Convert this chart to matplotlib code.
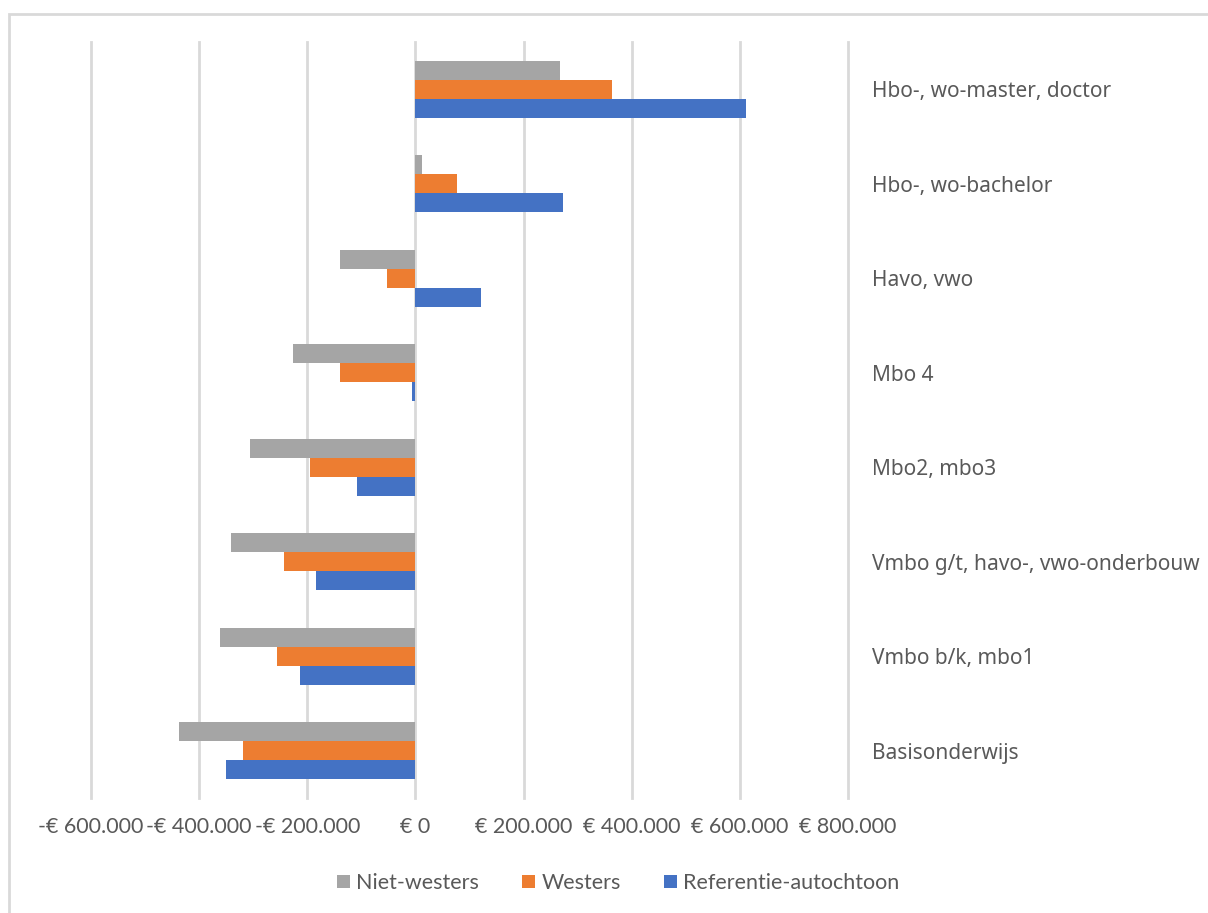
import matplotlib
matplotlib.use("Agg")
import matplotlib.pyplot as plt
from matplotlib.ticker import FuncFormatter
from matplotlib.patches import Rectangle
import numpy as np

# Opleidingsniveaus, van laag (onder) naar hoog (boven)
levels = ["Basisonderwijs", "Vmbo b/k, mbo1", "Vmbo g/t, havo-, vwo-onderbouw",
          "Mbo2, mbo3", "Mbo 4", "Havo, vwo", "Hbo-, wo-bachelor",
          "Hbo-, wo-master, doctor"]

niet_westers = [-437000, -361000, -341000, -306000, -227000, -140000, 12000, 267000]
westers = [-319000, -256000, -243000, -195000, -139000, -52000, 76000, 364000]
referentie = [-350000, -213000, -183000, -108000, -7000, 122000, 273000, 612000]

series_names = ["Niet-westers", "Westers", "Referentie-autochtoon"]
colors = ["#a5a5a5", "#ed7d31", "#4472c4"]
xticks = [-600000, -400000, -200000, 0, 200000, 400000, 600000, 800000]

narrow = ["Lato", "DejaVu Sans"]
label_col = "#595959"


def euro(v, pos=None):
    if v == 0:
        return "€ 0"
    s = f"{abs(int(v)):,}".replace(",", ".")
    return ("-€ " if v < 0 else "€ ") + s


fig = plt.figure(figsize=(12.08, 9.13), dpi=100)
ax = fig.add_axes([91 / 1208, 1 - 798 / 913, (848 - 91) / 1208, (798 - 42) / 913])

y = np.arange(len(levels))
h = 0.2
for i, (vals, name, c) in enumerate(zip([niet_westers, westers, referentie], series_names, colors)):
    ax.barh(y + h * (1 - i), vals, height=h, color=c, label=name, zorder=3)

ax.set_xlim(-600000, 800000)
ax.set_ylim(-0.5, len(levels) - 0.5)
ax.set_xticks(xticks)
ax.xaxis.set_major_formatter(FuncFormatter(euro))
ax.grid(axis="x", color="#d9d9d9", linewidth=2, zorder=0)
for gl in ax.get_xgridlines():
    gl.set_clip_on(False)
for s in ax.spines.values():
    s.set_visible(False)

ax.set_yticks(y)
ax.set_yticklabels(levels, family=["Noto Sans", "DejaVu Sans"], fontsize=15, color=label_col)
ax.yaxis.tick_right()
ax.tick_params(axis="y", length=0, pad=17)
ax.tick_params(axis="x", length=0, pad=14, labelsize=15.5, labelcolor=label_col)
for t in ax.get_xticklabels():
    t.set_family(narrow)

leg = fig.legend(loc="center", bbox_to_anchor=(618 / 1208, 1 - 883 / 913), ncol=3,
                 frameon=False, prop={"family": narrow, "size": 15.5},
                 handlelength=0.6, handleheight=0.6, handletextpad=0.3, columnspacing=2.0)
for t in leg.get_texts():
    t.set_color(label_col)

# rand van het grafiekgebied
fig.patches.append(Rectangle((8.5 / 1208, -0.1), 1.2, 0.1 + (913 - 14.5) / 913,
                             transform=fig.transFigure, fill=False,
                             edgecolor="#d9d9d9", linewidth=2))

fig.savefig("out.png", dpi=100)
